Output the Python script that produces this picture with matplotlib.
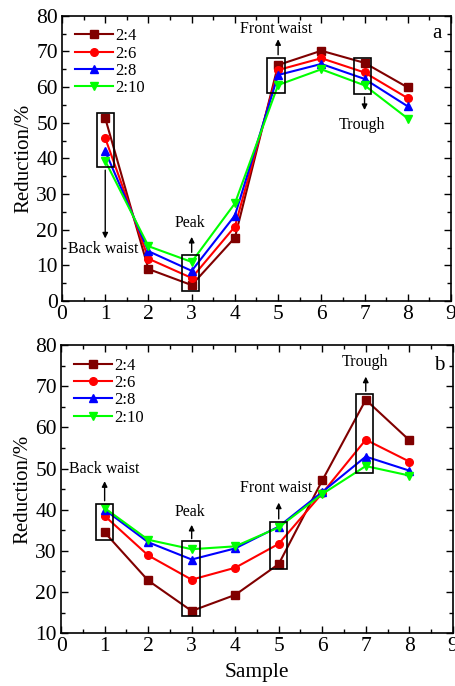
import matplotlib.pyplot as plt
import numpy as np
from matplotlib.patches import Rectangle
from matplotlib.ticker import MultipleLocator

plt.rcParams['font.family'] = ['Liberation Serif', 'DejaVu Serif']
plt.rcParams['mathtext.fontset'] = 'stix'

# data
sample = [1, 2, 3, 4, 5, 6, 7, 8]
labels = ['2:4', '2:6', '2:8', '2:10']

a_24 = [51.3, 9.0, 4.5, 17.8, 66.2, 70.2, 66.8, 59.9]
a_26 = [45.7, 11.9, 6.5, 20.9, 64.8, 68.1, 64.1, 56.9]
a_28 = [42.0, 14.0, 8.5, 24.0, 63.4, 66.5, 62.3, 54.6]
a_210 = [39.3, 15.4, 11.0, 27.4, 60.6, 65.0, 60.5, 51.2]

b_24 = [34.5, 22.8, 15.4, 19.3, 26.8, 47.1, 66.7, 56.9]
b_26 = [38.5, 28.9, 23.0, 25.9, 31.7, 44.0, 57.0, 51.7]
b_28 = [40.0, 32.1, 27.9, 30.6, 35.9, 44.3, 52.9, 49.5]
b_210 = [40.4, 32.7, 30.4, 31.1, 35.7, 43.8, 50.6, 48.3]

colors = ['#800000', '#ff0000', '#0000ff', '#00ff00']
markers = ['s', 'o', '^', 'v']

fig = plt.figure(figsize=(4.56, 6.86), dpi=100)
ax1 = fig.add_axes([0.136, 0.561, 0.853, 0.416])
ax2 = fig.add_axes([0.134, 0.077, 0.859, 0.420])


def draw(ax, series, ylim, boxes, arrows, notes, tag):
    for ys, lab, c, m in zip(series, labels, colors, markers):
        ax.plot(sample, ys, color=c, marker=m, ms=5.5, lw=1.5, label=lab)
    ax.set_xlim(0, 9)
    ax.set_ylim(*ylim)
    ax.xaxis.set_major_locator(MultipleLocator(1))
    ax.xaxis.set_minor_locator(MultipleLocator(0.5))
    ax.yaxis.set_major_locator(MultipleLocator(10))
    ax.yaxis.set_minor_locator(MultipleLocator(5))
    ax.tick_params(which='both', direction='in', top=True, right=True, labelsize=15.5)
    ax.tick_params(which='major', length=5, width=1, pad=3)
    ax.tick_params(which='minor', length=3, width=1)
    for s in ax.spines.values():
        s.set_linewidth(1.2)
    ax.set_ylabel('Reduction/%', fontsize=15, labelpad=2)
    for (x0, y0, w, h) in boxes:
        ax.add_patch(Rectangle((x0, y0), w, h, fill=False, ec='black', lw=1.2, zorder=5))
    for (x, y0, y1) in arrows:
        ax.annotate('', xy=(x, y1), xytext=(x, y0),
                    arrowprops=dict(arrowstyle='-|>', color='black', lw=1, mutation_scale=8))
    for (x, y, t) in notes:
        ax.text(x, y, t, ha='center', va='center', fontsize=11.5)
    ax.text(8.68, ylim[1] - 5, tag, ha='center', va='center', fontsize=15)
    ax.legend(loc='upper left', frameon=False, fontsize=12, handlelength=2.3,
              handletextpad=0.15, labelspacing=0.08, borderaxespad=0.35)


draw(ax1, [a_24, a_26, a_28, a_210], (0, 80),
     boxes=[(0.81, 37.5, 0.4, 15.2), (2.77, 2.8, 0.4, 10.1),
            (4.75, 58.3, 0.4, 10.0), (6.75, 58.0, 0.4, 10.3)],
     arrows=[(1, 37.5, 16.8), (3, 12.9, 18.8), (5, 68.3, 74.2), (7, 58.0, 52.8)],
     notes=[(0.95, 14.5, 'Back waist'), (2.95, 21.8, 'Peak'),
            (4.95, 76.3, 'Front waist'), (6.95, 49.5, 'Trough')],
     tag='a')

draw(ax2, [b_24, b_26, b_28, b_210], (10, 80),
     boxes=[(0.81, 32.7, 0.38, 8.8), (2.78, 14.1, 0.4, 18.2),
            (4.8, 25.5, 0.4, 11.6), (6.78, 49.0, 0.39, 19.1)],
     arrows=[(1, 41.5, 47.6), (3, 32.3, 37.0), (5, 37.1, 42.4), (7, 68.1, 73.0)],
     notes=[(0.99, 49.9, 'Back waist'), (2.95, 39.5, 'Peak'),
            (4.95, 45.2, 'Front waist'), (6.97, 76.0, 'Trough')],
     tag='b')
ax2.set_xlabel('Sample', fontsize=15.5, labelpad=5)

fig.savefig('out.png', dpi=100)
